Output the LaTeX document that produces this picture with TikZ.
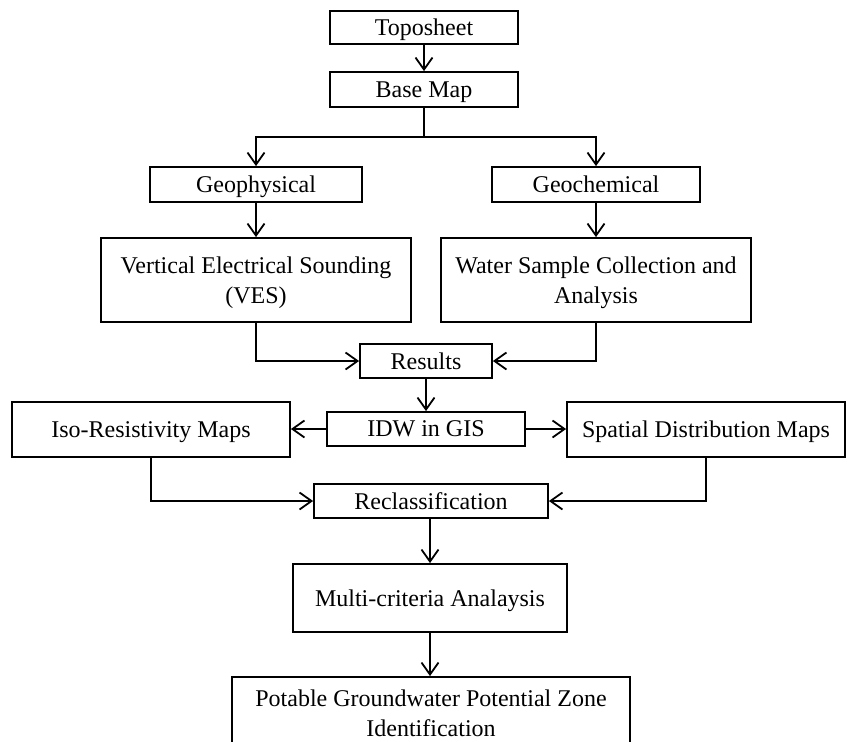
\documentclass[tikz,border=0pt]{standalone}
\usepackage{fontspec}
\setmainfont{Liberation Serif}
\usetikzlibrary{arrows.meta}
\begin{document}
\begin{tikzpicture}[x=1pt,y=-1pt,
  box/.style={draw=black, line width=1.8pt, rectangle, inner sep=0pt, align=center,
    text depth=0pt, font=\fontsize{24}{30}\selectfont},
  arr/.style={line width=1.8pt, -{Straight Barb[length=12pt,width=17pt]}},
  ln/.style={line width=1.8pt}]
\useasboundingbox (0,0) rectangle (847,742);
\clip (0,0) rectangle (847,742);
\node[box, minimum width=188pt, minimum height=33pt] (topo) at (424,27.5) {Toposheet};
\node[box, minimum width=188pt, minimum height=35pt] (base) at (424,89.5) {Base Map};
\node[box, minimum width=212pt, minimum height=35pt] (geop) at (256,184.5) {Geophysical};
\node[box, minimum width=208pt, minimum height=35pt] (geoc) at (596,184.5) {Geochemical};
\node[box, minimum width=310pt, minimum height=84pt] (ves) at (256,280) {Vertical Electrical Sounding\\(VES)};
\node[box, minimum width=310pt, minimum height=84pt] (water) at (596,280) {Water Sample Collection and\\Analysis};
\node[box, minimum width=132pt, minimum height=34pt] (res) at (426,361) {Results};
\node[box, minimum width=198pt, minimum height=34pt] (idw) at (426,429) {IDW in GIS};
\node[box, minimum width=278pt, minimum height=55pt] (iso) at (151,429.5) {Iso-Resistivity Maps};
\node[box, minimum width=278pt, minimum height=55pt] (spat) at (706,429.5) {Spatial Distribution Maps};
\node[box, minimum width=234pt, minimum height=34pt] (recl) at (431,501) {Reclassification};
\node[box, minimum width=274pt, minimum height=68pt] (multi) at (430,598) {Multi-criteria Analaysis};
\node[box, minimum width=398pt, minimum height=72pt] (pot) at (431,713) {Potable Groundwater Potential Zone\\Identification};
\coordinate (split) at (424,137);
\draw[arr] (topo) -- (base);
\draw[ln] (base.south) -- (split);
\draw[arr] (split) -| (geop.north);
\draw[arr] (split) -| (geoc.north);
\draw[arr] (geop) -- (ves);
\draw[arr] (geoc) -- (water);
\draw[arr] (ves.south) |- (res.west);
\draw[arr] (water.south) |- (res.east);
\draw[arr] (res) -- (idw);
\draw[arr] (idw.west) -- (iso.east |- idw.west);
\draw[arr] (idw.east) -- (spat.west |- idw.east);
\draw[arr] (iso.south) |- (recl.west);
\draw[arr] (spat.south) |- (recl.east);
\draw[arr] (recl.south -| multi.north) -- (multi.north);
\draw[arr] (multi.south) -- (pot.north -| multi.south);
\end{tikzpicture}
\end{document}
